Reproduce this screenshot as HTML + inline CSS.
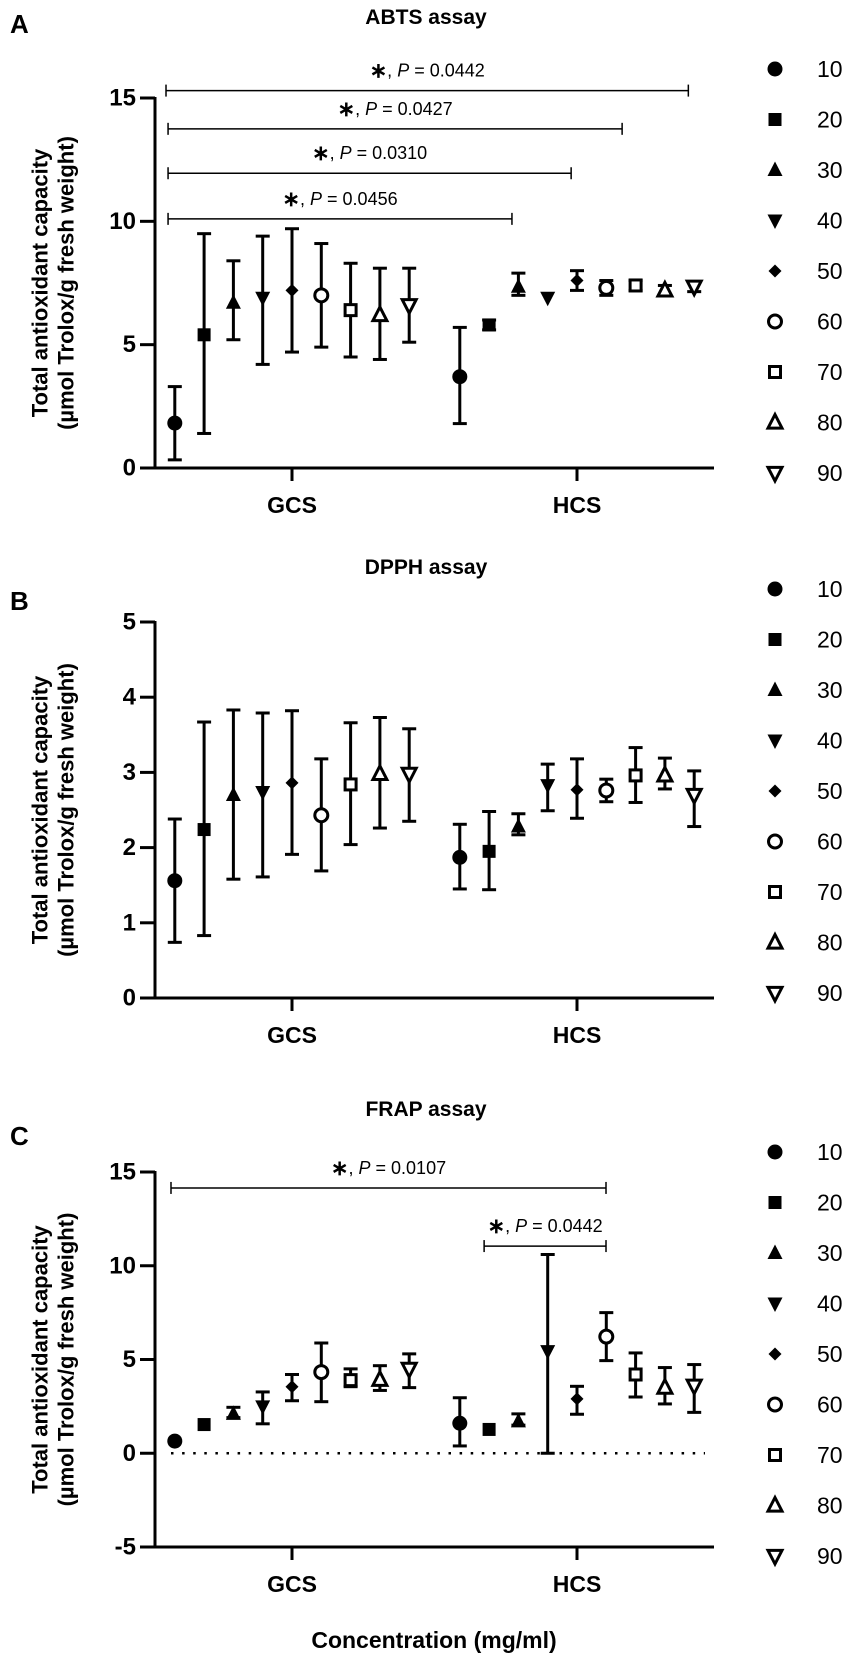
<!DOCTYPE html>
<html><head><meta charset="utf-8"><style>
body{margin:0;background:#fff}
svg{display:block}
text{font-family:"Liberation Sans",Arial,sans-serif;fill:#000}
</style></head><body>
<svg id="fig" width="851" height="1658" viewBox="0 0 851 1658" xmlns="http://www.w3.org/2000/svg"></svg>
<script>
// ---------- data ----------
const groups = ["GCS", "HCS"];
const concentrations = ["10","20","30","40","50","60","70","80","90"];
const markerShapes = ["circle","square","tri-up","tri-down","diamond","open-circle","open-square","open-tri-up","open-tri-down"];

// ABTS
const abtsGcsMean  = [1.82,5.4,6.7,6.9,7.2,7.0,6.4,6.2,6.6];
const abtsGcsUpper = [3.3,9.5,8.4,9.4,9.7,9.1,8.3,8.1,8.1];
const abtsGcsLower = [0.33,1.4,5.2,4.2,4.7,4.9,4.5,4.4,5.1];
const abtsHcsMean  = [3.7,5.8,7.35,6.9,7.6,7.3,7.4,7.2,7.35];
const abtsHcsUpper = [5.7,6.0,7.9,6.9,8.0,7.6,7.6,7.4,7.55];
const abtsHcsLower = [1.8,5.6,7.0,6.9,7.2,7.0,7.2,7.0,7.15];
const abtsTicks = [0,5,10,15];
const abtsBracketLabels = ["0.0442","0.0427","0.0310","0.0456"];
const abtsBracketLevels = [15.3,13.75,11.95,10.1];
const abtsBracketStartGroup = [0,0,0,0];
const abtsBracketStart = [-0.3,-0.23,-0.23,-0.23];
const abtsBracketEndGroup = [1,1,1,1];
const abtsBracketEnd = [7.8,5.54,3.8,1.78];

// DPPH
const dpphGcsMean  = [1.56,2.24,2.7,2.74,2.86,2.43,2.84,2.98,2.98];
const dpphGcsUpper = [2.38,3.67,3.83,3.79,3.82,3.18,3.66,3.73,3.58];
const dpphGcsLower = [0.74,0.83,1.58,1.61,1.91,1.69,2.04,2.26,2.35];
const dpphHcsMean  = [1.87,1.95,2.28,2.83,2.77,2.76,2.96,2.96,2.7];
const dpphHcsUpper = [2.31,2.48,2.45,3.11,3.18,2.91,3.33,3.19,3.02];
const dpphHcsLower = [1.45,1.44,2.17,2.49,2.39,2.61,2.6,2.78,2.28];
const dpphTicks = [0,1,2,3,4,5];

// FRAP
const frapGcsMean  = [0.65,1.53,2.1,2.5,3.55,4.33,3.9,3.92,4.5];
const frapGcsUpper = [0.65,1.53,2.45,3.27,4.2,5.88,4.5,4.67,5.3];
const frapGcsLower = [0.65,1.53,1.9,1.57,2.8,2.75,3.55,3.35,3.5];
const frapHcsMean  = [1.6,1.27,1.7,5.45,2.9,6.22,4.2,3.5,3.6];
const frapHcsUpper = [2.96,1.27,2.1,10.6,3.57,7.5,5.35,4.57,4.73];
const frapHcsLower = [0.39,1.27,1.5,0,2.08,4.94,3.0,2.63,2.18];
const frapTicks = [-5,0,5,10,15];
const frapBracketLabels = ["0.0107","0.0442"];
const frapBracketLevels = [14.15,11.05];
const frapBracketStartGroup = [0,1];
const frapBracketStart = [-0.13,0.83];
const frapBracketEndGroup = [1,1];
const frapBracketEnd = [4.99,4.99];

// ---------- drawing ----------
const NS = "http://www.w3.org/2000/svg";
const svg = document.getElementById("fig");
function mk(tag, attrs, parent){
  const e = document.createElementNS(NS, tag);
  for (const k in attrs) e.setAttribute(k, attrs[k]);
  (parent||svg).appendChild(e);
  return e;
}
const AX_LEFT = 155, AX_RIGHT = 714, GROUP_CENTER = [292, 577], STEP = 29.3;
function xPos(g, i){ return GROUP_CENTER[g] + (i - 4) * STEP; }
function drawMarker(shape, cx, cy, parent){
  const open = shape.startsWith("open");
  const st = open ? {fill:"#fff", stroke:"#000", "stroke-width":3} : {fill:"#000"};
  const base = shape.replace("open-","");
  if (base === "circle") return mk("circle", Object.assign({cx:cx, cy:cy, r: open?6.5:7.5}, st), parent);
  if (base === "square") { const s = open?11:13; return mk("rect", Object.assign({x:cx-s/2, y:cy-s/2, width:s, height:s}, st), parent); }
  if (base === "tri-up") { const s = open?7:7.5; return mk("polygon", Object.assign({points:`${cx},${cy-s-1} ${cx+s},${cy+s*0.8} ${cx-s},${cy+s*0.8}`}, st), parent); }
  if (base === "tri-down") { const s = open?7:7.5; return mk("polygon", Object.assign({points:`${cx},${cy+s+1} ${cx+s},${cy-s*0.8} ${cx-s},${cy-s*0.8}`}, st), parent); }
  if (base === "diamond") { const s = 6.5; return mk("polygon", Object.assign({points:`${cx},${cy-s} ${cx+s},${cy} ${cx},${cy+s} ${cx-s},${cy}`}, st), parent); }
}
function drawPanel(p){
  const g = mk("g", {});
  
  
  const yMin = p.ticks[0], yMax = p.ticks[p.ticks.length-1];
  const yScale = v => p.yBottom - (v - yMin) / (yMax - yMin) * (p.yBottom - p.yTop);
  const L = mk("text", {x:10, y:p.letterY, "font-size":26, "font-weight":"bold"}, g); L.textContent = p.letter;
   
  const T = mk("text", {x:426, y:p.titleY, "font-size":21, "font-weight":"bold", "text-anchor":"middle"}, g); T.textContent = p.title;
   
  const yt = mk("g", {transform:`translate(0 ${(p.yTop+p.yBottom)/2}) rotate(-90)`}, g);
   
  const t1 = mk("text", {x:0, y:40, "font-size":22, "font-weight":"bold", "text-anchor":"middle", "dominant-baseline":"central"}, yt);
  t1.textContent = "Total antioxidant capacity";
  const t2 = mk("text", {x:0, y:66, "font-size":22, "font-weight":"bold", "text-anchor":"middle", "dominant-baseline":"central"}, yt);
  t2.textContent = "(µmol Trolox/g fresh weight)";
  const ax = mk("g", {}, g);
   
  mk("line", {x1:AX_LEFT, y1:p.yTop-1, x2:AX_LEFT, y2:p.yBottom+1.5, stroke:"#000", "stroke-width":3}, ax);
  mk("line", {x1:AX_LEFT-1.5, y1:p.yBottom, x2:AX_RIGHT, y2:p.yBottom, stroke:"#000", "stroke-width":3}, ax);
  p.ticks.forEach(t => {
    const y = yScale(t);
    mk("line", {x1:AX_LEFT-15, y1:y, x2:AX_LEFT, y2:y, stroke:"#000", "stroke-width":3}, ax);
    const tl = mk("text", {x:AX_LEFT-19, y:y, "font-size":24, "font-weight":"bold", "text-anchor":"end", "dominant-baseline":"central"}, ax);
    tl.textContent = String(t);
     
  });
  groups.forEach((gn, gi) => {
    mk("line", {x1:GROUP_CENTER[gi], y1:p.yBottom, x2:GROUP_CENTER[gi], y2:p.yBottom+13, stroke:"#000", "stroke-width":3}, ax);
    const xl = mk("text", {x:GROUP_CENTER[gi], y:p.yBottom+37, "font-size":23, "font-weight":"bold", "text-anchor":"middle", "dominant-baseline":"central"}, ax);
    xl.textContent = gn;
     
  });
  if (p.zeroLine) {
    const zl = mk("line", {x1:AX_LEFT+16, y1:yScale(0), x2:705, y2:yScale(0), stroke:"#000", "stroke-width":2.5, "stroke-dasharray":"2.5 8.6"}, g);
     
  }
  (p.brLabels||[]).forEach((lab, k) => {
    const bg = mk("g", {}, g);
     
    const x1 = xPos(p.brStartGroup[k], p.brStart[k]), x2 = xPos(p.brEndGroup[k], p.brEnd[k]), y = yScale(p.brLevels[k]);
    mk("line", {x1:x1, y1:y, x2:x2, y2:y, stroke:"#000", "stroke-width":1.5}, bg);
    mk("line", {x1:x1, y1:y-6, x2:x1, y2:y+6, stroke:"#000", "stroke-width":1.5}, bg);
    mk("line", {x1:x2, y1:y-6, x2:x2, y2:y+6, stroke:"#000", "stroke-width":1.5}, bg);
    const tx = mk("text", {x:(x1+x2)/2, y:y-20, "font-size":18, "text-anchor":"middle", "dominant-baseline":"central"}, bg);
    const s1 = mk("tspan", {"font-weight":"bold", "font-size":21}, tx); s1.textContent = "∗";
    const s2 = mk("tspan", {}, tx); s2.textContent = ", ";
    const s3 = mk("tspan", {"font-style":"italic"}, tx); s3.textContent = "P";
    const s4 = mk("tspan", {}, tx); s4.textContent = " = " + lab;
  });
  const sets = [[p.gm, p.gu, p.gl], [p.hm, p.hu, p.hl]];
  sets.forEach((s, gi) => {
    s[0].forEach((m, i) => {
      const pg = mk("g", {}, g);
      
      
      const x = xPos(gi, i), yu = yScale(s[1][i]), yl = yScale(s[2][i]);
      if (Math.abs(yl - yu) > 1) {
        mk("line", {x1:x, y1:yu, x2:x, y2:yl, stroke:"#000", "stroke-width":3}, pg);
        mk("line", {x1:x-7, y1:yu, x2:x+7, y2:yu, stroke:"#000", "stroke-width":3}, pg);
        mk("line", {x1:x-7, y1:yl, x2:x+7, y2:yl, stroke:"#000", "stroke-width":3}, pg);
      }
      drawMarker(markerShapes[i], x, yScale(m), pg);
    });
  });
  const lg = mk("g", {}, g);
   
  concentrations.forEach((c, i) => {
    const y = p.legendY + i * 50.5;
    const le = mk("g", {}, lg);
    
    
    drawMarker(markerShapes[i], 775, y, le);
    const lt = mk("text", {x:817, y:y, "font-size":23, "dominant-baseline":"central"}, le);
    lt.textContent = c;
  });
}
drawPanel({name:"abts", letter:"A", letterY:33, title:"ABTS assay", titleY:24, ticks:abtsTicks, yTop:98, yBottom:468,
  gm:abtsGcsMean, gu:abtsGcsUpper, gl:abtsGcsLower, hm:abtsHcsMean, hu:abtsHcsUpper, hl:abtsHcsLower,
  brLabels:abtsBracketLabels, brLevels:abtsBracketLevels, brStartGroup:abtsBracketStartGroup, brStart:abtsBracketStart,
  brEndGroup:abtsBracketEndGroup, brEnd:abtsBracketEnd, legendY:69});
drawPanel({name:"dpph", letter:"B", letterY:610, title:"DPPH assay", titleY:574, ticks:dpphTicks, yTop:622, yBottom:998,
  gm:dpphGcsMean, gu:dpphGcsUpper, gl:dpphGcsLower, hm:dpphHcsMean, hu:dpphHcsUpper, hl:dpphHcsLower, legendY:589});
drawPanel({name:"frap", letter:"C", letterY:1145, title:"FRAP assay", titleY:1116, ticks:frapTicks, yTop:1172, yBottom:1547, zeroLine:true,
  gm:frapGcsMean, gu:frapGcsUpper, gl:frapGcsLower, hm:frapHcsMean, hu:frapHcsUpper, hl:frapHcsLower,
  brLabels:frapBracketLabels, brLevels:frapBracketLevels, brStartGroup:frapBracketStartGroup, brStart:frapBracketStart,
  brEndGroup:frapBracketEndGroup, brEnd:frapBracketEnd, legendY:1152});
const xt = mk("text", {x:434, y:1640, "font-size":23, "font-weight":"bold", "text-anchor":"middle", "dominant-baseline":"central"});
xt.textContent = "Concentration (mg/ml)";


</script>
</body></html>
